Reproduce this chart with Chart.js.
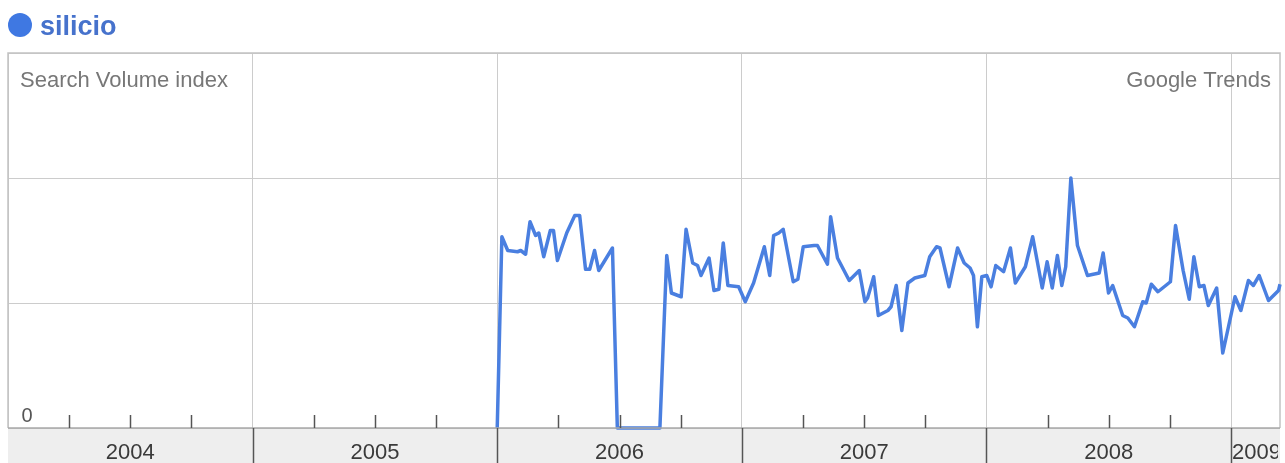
<!DOCTYPE html>
<html>
<head>
<meta charset="utf-8">
<script src="https://cdn.jsdelivr.net/npm/chart.js@4"></script>
<style>
html,body{margin:0;padding:0;background:#fff;}
#wrap{position:relative;width:1285px;height:463px;}
</style>
</head>
<body>
<div id="wrap"><canvas id="c" width="1285" height="463"></canvas></div>
<script>
// ---- data ----
const seriesName = 'silicio';
const yearStarts = [2004, 2005, 2006, 2007, 2008, 2009];
const yearLabels = ['2004', '2005', '2006', '2007', '2008', '2009'];
const xMin = 2004, xMax = 2009.2;
const yTicks = [0, 1, 2, 3];
const weekDates = [
  2006.000, 2006.019, 2006.043, 2006.083, 2006.096, 2006.116, 2006.134, 2006.157, 2006.170, 2006.190,
  2006.217, 2006.230, 2006.246, 2006.284, 2006.317, 2006.337, 2006.361, 2006.378, 2006.398, 2006.415,
  2006.471, 2006.491, 2006.665, 2006.693, 2006.712, 2006.752, 2006.772, 2006.799, 2006.819, 2006.833,
  2006.866, 2006.886, 2006.906, 2006.924, 2006.943, 2006.987, 2007.014, 2007.048, 2007.092, 2007.114,
  2007.130, 2007.151, 2007.169, 2007.210, 2007.229, 2007.251, 2007.295, 2007.309, 2007.350, 2007.363,
  2007.391, 2007.439, 2007.480, 2007.503, 2007.514, 2007.539, 2007.558, 2007.597, 2007.610, 2007.631,
  2007.654, 2007.679, 2007.707, 2007.727, 2007.748, 2007.768, 2007.796, 2007.810, 2007.847, 2007.882,
  2007.909, 2007.933, 2007.947, 2007.963, 2007.981, 2008.001, 2008.019, 2008.038, 2008.070, 2008.098,
  2008.118, 2008.159, 2008.189, 2008.228, 2008.248, 2008.269, 2008.290, 2008.308, 2008.324, 2008.345,
  2008.372, 2008.413, 2008.461, 2008.477, 2008.499, 2008.516, 2008.557, 2008.578, 2008.605, 2008.639,
  2008.653, 2008.674, 2008.701, 2008.733, 2008.752, 2008.773, 2008.804, 2008.829, 2008.848, 2008.870,
  2008.889, 2008.907, 2008.941, 2008.966, 2009.016, 2009.040, 2009.071, 2009.091, 2009.115, 2009.153,
  2009.194, 2009.200
];
const volume = [
  0, 1.53, 1.42, 1.41, 1.42, 1.39, 1.65, 1.54, 1.56, 1.37,
  1.58, 1.58, 1.34, 1.56, 1.70, 1.70, 1.27, 1.27, 1.42, 1.26,
  1.44, 0, 0, 1.38, 1.08, 1.05, 1.59, 1.32, 1.30, 1.22,
  1.36, 1.10, 1.11, 1.48, 1.14, 1.13, 1.01, 1.16, 1.45, 1.22,
  1.54, 1.56, 1.59, 1.17, 1.19, 1.45, 1.46, 1.46, 1.31, 1.69,
  1.36, 1.18, 1.26, 1.01, 1.04, 1.21, 0.90, 0.94, 0.97, 1.14,
  0.78, 1.16, 1.20, 1.21, 1.22, 1.37, 1.45, 1.44, 1.13, 1.44,
  1.32, 1.28, 1.22, 0.81, 1.21, 1.22, 1.13, 1.30, 1.25, 1.44,
  1.16, 1.29, 1.53, 1.12, 1.33, 1.12, 1.38, 1.14, 1.29, 2.00,
  1.46, 1.22, 1.24, 1.40, 1.08, 1.14, 0.90, 0.88, 0.81, 1.01,
  1.00, 1.15, 1.09, 1.14, 1.17, 1.62, 1.26, 1.03, 1.37, 1.13,
  1.14, 0.98, 1.12, 0.60, 1.05, 0.94, 1.18, 1.14, 1.22, 1.02,
  1.10, 1.15
];

const FONT = '"Liberation Sans", Arial, Helvetica, sans-serif';
const LINE_BLUE = '#4a7fe0';

const points = weekDates.map((d, i) => ({ x: d, y: volume[i] }));

const decor = {
  id: 'decor',
  beforeDraw(chart) {
    const { ctx, chartArea: a } = chart;
    ctx.save();
    ctx.fillStyle = '#eeeeee';
    ctx.fillRect(a.left, a.bottom, a.right - a.left, chart.height - a.bottom);
    ctx.restore();
  },
  beforeDatasetsDraw(chart) {
    const { ctx, chartArea: a, scales: { y } } = chart;
    ctx.save();
    // plot frame
    ctx.strokeStyle = '#c2c2c2';
    ctx.lineWidth = 1.5;
    ctx.beginPath();
    ctx.moveTo(a.left, a.bottom);
    ctx.lineTo(a.left, a.top);
    ctx.lineTo(a.right, a.top);
    ctx.lineTo(a.right, a.bottom);
    ctx.stroke();
    // corner texts
    ctx.font = '22px ' + FONT;
    ctx.fillStyle = '#777777';
    ctx.textBaseline = 'alphabetic';
    ctx.textAlign = 'left';
    ctx.fillText('Search Volume index', a.left + 12, a.top + 34);
    ctx.textAlign = 'right';
    ctx.fillText('Google Trends', a.right - 9, a.top + 34);
    // zero label
    ctx.font = '20px ' + FONT;
    ctx.fillStyle = '#555555';
    ctx.textAlign = 'center';
    ctx.fillText(String(yTicks[0]), a.left + 19, y.getPixelForValue(yTicks[0]) - 6);
    ctx.restore();
  },
  afterDatasetsDraw(chart) {
    const { ctx, chartArea: a, scales: { x } } = chart;
    ctx.save();
    // baseline
    ctx.strokeStyle = '#a8a8a8';
    ctx.lineWidth = 1.5;
    ctx.beginPath();
    ctx.moveTo(a.left, a.bottom);
    ctx.lineTo(a.right, a.bottom);
    ctx.stroke();
    // quarter ticks
    ctx.strokeStyle = '#555555';
    ctx.lineWidth = 1.5;
    yearStarts.forEach(yr => {
      [0.25, 0.5, 0.75].forEach(q => {
        const v = yr + q;
        if (v >= xMax) return;
        const px = Math.round(x.getPixelForValue(v)) + 0.5;
        ctx.beginPath();
        ctx.moveTo(px, a.bottom - 13);
        ctx.lineTo(px, a.bottom);
        ctx.stroke();
      });
    });
    // year boundary lines in the band
    ctx.strokeStyle = '#555555';
    ctx.lineWidth = 1.5;
    yearStarts.forEach((yr, i) => {
      if (i === 0) return;
      const px = Math.round(x.getPixelForValue(yr)) + 0.5;
      ctx.beginPath();
      ctx.moveTo(px, a.bottom);
      ctx.lineTo(px, chart.height);
      ctx.stroke();
    });
    // year labels, clipped to the plot width
    ctx.beginPath();
    ctx.rect(a.left, a.bottom, a.right - a.left - 2, chart.height - a.bottom);
    ctx.clip();
    ctx.font = '22px ' + FONT;
    ctx.fillStyle = '#3a3a3a';
    ctx.textAlign = 'center';
    ctx.textBaseline = 'alphabetic';
    yearStarts.forEach((yr, i) => {
      const l = x.getPixelForValue(yr);
      const r = x.getPixelForValue(Math.min(yr + 1, xMax));
      ctx.fillText(yearLabels[i], (l + r) / 2 + (yr + 1 > xMax ? 1 : 0), a.bottom + 31);
    });
    ctx.restore();
  },
  afterDraw(chart) {
    const { ctx } = chart;
    ctx.save();
    ctx.fillStyle = '#3f78e2';
    ctx.beginPath();
    ctx.arc(20, 25, 12, 0, Math.PI * 2);
    ctx.fill();
    ctx.font = 'bold 27px ' + FONT;
    ctx.fillStyle = '#4672cc';
    ctx.textAlign = 'left';
    ctx.textBaseline = 'alphabetic';
    ctx.fillText(seriesName, 40, 35);
    ctx.restore();
  }
};

new Chart(document.getElementById('c'), {
  type: 'line',
  data: {
    datasets: [{
      label: seriesName,
      data: points,
      borderColor: LINE_BLUE,
      borderWidth: 3.5,
      pointRadius: 0,
      tension: 0,
      fill: false,
      clip: 3,
      borderJoinStyle: 'round'
    }]
  },
  options: {
    responsive: false,
    animation: false,
    devicePixelRatio: 1,
    layout: { padding: { left: 8, right: 5, top: 53, bottom: 35 } },
    plugins: { legend: { display: false }, tooltip: { enabled: false } },
    scales: {
      x: {
        type: 'linear',
        min: xMin,
        max: xMax,
        afterBuildTicks: s => { s.ticks = yearStarts.map(v => ({ value: v })); },
        ticks: { display: false },
        grid: { color: '#cccccc', lineWidth: 1, drawTicks: false },
        border: { display: false }
      },
      y: {
        min: yTicks[0],
        max: yTicks[yTicks.length - 1],
        afterBuildTicks: s => { s.ticks = yTicks.map(v => ({ value: v })); },
        ticks: { display: false },
        grid: { color: '#cccccc', lineWidth: 1, drawTicks: false },
        border: { display: false }
      }
    }
  },
  plugins: [decor]
});
</script>
</body>
</html>
